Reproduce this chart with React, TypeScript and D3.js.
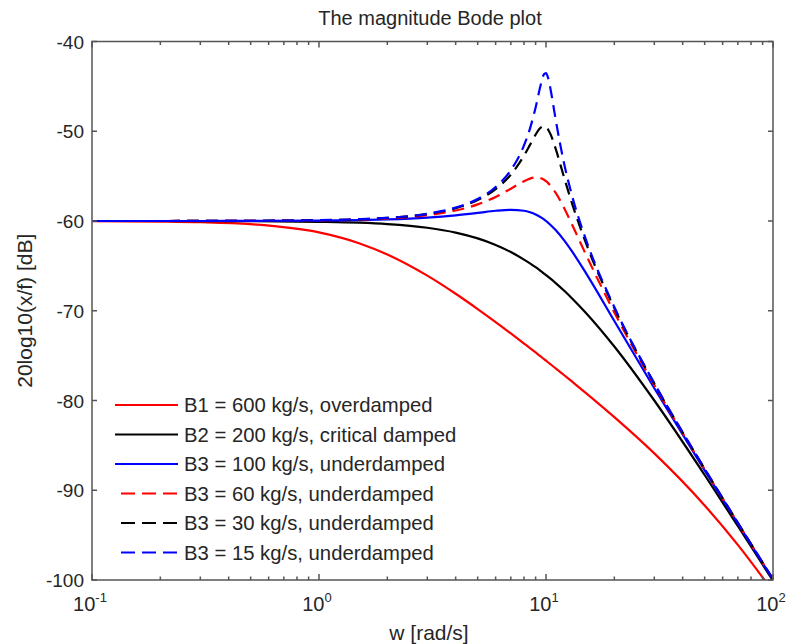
import React from 'react';
import * as d3 from 'd3';

// frequency samples [rad/s]
const w = [0.1, 0.2, 0.3, 0.5, 1, 1.5, 2, 3, 4, 5, 6, 7, 8, 8.5, 9, 9.5, 9.8, 10, 10.2, 10.5, 11, 12, 13, 15, 20, 30, 50, 70, 100];

// magnitude [dB] for each damping value
const b600 = [-60.01, -60.06, -60.13, -60.35, -61.27, -62.47, -63.73, -66.09, -68.11, -69.81, -71.26, -72.53, -73.65, -74.16, -74.65, -75.12, -75.39, -75.56, -75.74, -75.99, -76.4, -77.16, -77.88, -79.17, -81.85, -85.89, -91.69, -96.09, -101.27];
const b200 = [-60.0, -60.0, -60.01, -60.02, -60.09, -60.19, -60.34, -60.75, -61.29, -61.94, -62.67, -63.46, -64.3, -64.72, -65.15, -65.59, -65.85, -66.02, -66.19, -66.45, -66.89, -67.75, -68.6, -70.24, -73.98, -80.0, -88.3, -93.98, -100.09];
const b100 = [-60.0, -60.0, -60.0, -59.99, -59.96, -59.9, -59.83, -59.63, -59.37, -59.1, -58.86, -58.75, -58.86, -59.03, -59.27, -59.6, -59.83, -60.0, -60.18, -60.47, -60.98, -62.13, -63.36, -65.81, -71.14, -78.63, -87.79, -93.72, -99.96];
const b60 = [-60.0, -60.0, -59.99, -59.98, -59.93, -59.84, -59.71, -59.35, -58.83, -58.15, -57.32, -56.4, -55.56, -55.28, -55.15, -55.24, -55.41, -55.56, -55.75, -56.1, -56.81, -58.52, -60.35, -63.75, -70.19, -78.28, -87.67, -93.66, -99.93];
const b30 = [-60.0, -60.0, -59.99, -59.98, -59.92, -59.81, -59.66, -59.22, -58.57, -57.67, -56.45, -54.83, -52.72, -51.52, -50.37, -49.58, -49.44, -49.54, -49.79, -50.4, -51.85, -55.1, -57.98, -62.47, -69.71, -78.12, -87.62, -93.63, -99.92];
const b15 = [-60.0, -60.0, -59.99, -59.98, -59.91, -59.8, -59.65, -59.19, -58.51, -57.54, -56.21, -54.33, -51.58, -49.7, -47.35, -44.74, -43.65, -43.52, -43.99, -45.48, -48.53, -53.54, -57.11, -62.08, -69.59, -78.08, -87.61, -93.63, -99.91];

const seriesNames = [
  'B1 = 600 kg/s, overdamped',
  'B2 = 200 kg/s, critical damped',
  'B3 = 100 kg/s, underdamped',
  'B3 = 60 kg/s, underdamped',
  'B3 = 30 kg/s, underdamped',
  'B3 = 15 kg/s, underdamped',
];
const seriesValues = [b600, b200, b100, b60, b30, b15];
const seriesColors = ['#ff0000', '#000000', '#0000ff', '#ff0000', '#000000', '#0000ff'];
const seriesDashed = [false, false, false, true, true, true];

const yTicks = [-100, -90, -80, -70, -60, -50, -40];
const xDecades = [-1, 0, 1, 2];

const width = 786;
const height = 644;
const margin = { top: 41.5, right: 13, bottom: 64, left: 92 };
const font = '"Liberation Sans", Arial, sans-serif';
const axisColor = '#555';
const textColor = '#262626';

const App = () => {
  const x = d3.scaleLog().domain([0.1, 100]).range([margin.left, width - margin.right]);
  const y = d3.scaleLinear().domain([-100, -40]).range([height - margin.bottom, margin.top]);
  const x0 = margin.left;
  const x1 = width - margin.right;
  const y0 = height - margin.bottom;
  const y1 = margin.top;

  const line = d3.line<[number, number]>()
    .x(d => x(d[0]))
    .y(d => y(d[1]))
    .curve(d3.curveMonotoneX);

  const minorTicks = x.ticks().filter(t => Math.abs(Math.log10(t) - Math.round(Math.log10(t))) > 1e-6);

  return (
    <div style={{ position: 'absolute', left: 0, top: 0 }}>
      <svg width={width} height={height} style={{ display: 'block', background: '#fff' }}>
        <defs>
          <clipPath id="plot-clip">
            <rect x={x0} y={y1} width={x1 - x0} height={y0 - y1} />
          </clipPath>
        </defs>

        {/* curves */}
        <g clipPath="url(#plot-clip)">
          {seriesValues.map((vals, i) => (
            <path
              key={i}
              d={line(w.map((wv, j) => [wv, vals[j]]) as [number, number][]) || ''}
              fill="none"
              stroke={seriesColors[i]}
              strokeWidth={2.2}
              strokeDasharray={seriesDashed[i] ? '12,7' : undefined}
            />
          ))}
        </g>

        {/* frame */}
        <rect x={x0} y={y1} width={x1 - x0} height={y0 - y1} fill="none" stroke={axisColor} strokeWidth={1.5} />

        {/* y ticks */}
        {yTicks.map(t => (
          <g key={t}>
            <line x1={x0} x2={x0 + 5} y1={y(t)} y2={y(t)} stroke={axisColor} strokeWidth={1.5} />
            <line x1={x1} x2={x1 - 5} y1={y(t)} y2={y(t)} stroke={axisColor} strokeWidth={1.5} />
            <text x={x0 - 8} y={y(t) + 7} textAnchor="end" fontFamily={font} fontSize={19} fill={textColor}>
              {t}
            </text>
          </g>
        ))}

        {/* x ticks */}
        {minorTicks.map(t => (
          <g key={t}>
            <line x1={x(t)} x2={x(t)} y1={y0} y2={y0 - 3.5} stroke={axisColor} strokeWidth={1.5} />
            <line x1={x(t)} x2={x(t)} y1={y1} y2={y1 + 3.5} stroke={axisColor} strokeWidth={1.5} />
          </g>
        ))}
        {xDecades.map(p => {
          const xv = x(Math.pow(10, p));
          return (
            <g key={p}>
              <line x1={xv} x2={xv} y1={y0} y2={y0 - 6} stroke={axisColor} strokeWidth={1.5} />
              <line x1={xv} x2={xv} y1={y1} y2={y1 + 6} stroke={axisColor} strokeWidth={1.5} />
              <text x={xv - 2} y={611} textAnchor="middle" fontFamily={font} fontSize={20} fill={textColor}>
                10<tspan dy={-9} fontSize={13}>{p}</tspan>
              </text>
            </g>
          );
        })}

        {/* legend */}
        {seriesNames.map((name, i) => {
          const ly = 405 + i * 29.5;
          return (
            <g key={name}>
              <line
                x1={seriesDashed[i] ? 121 : 115}
                x2={178}
                y1={ly}
                y2={ly}
                stroke={seriesColors[i]}
                strokeWidth={2.2}
                strokeDasharray={seriesDashed[i] ? '14,7' : undefined}
              />
              <text x={184} y={ly + 7} fontFamily={font} fontSize={20.3} fill={textColor}>
                {name}
              </text>
            </g>
          );
        })}

        {/* titles */}
        <text x={430} y={25} textAnchor="middle" fontFamily={font} fontSize={20} fill={textColor}>
          The magnitude Bode plot
        </text>
        <text x={429} y={640} textAnchor="middle" fontFamily={font} fontSize={21} fill={textColor}>
          w [rad/s]
        </text>
        <text
          transform={`translate(32,${(y0 + y1) / 2}) rotate(-90)`}
          textAnchor="middle"
          fontFamily={font}
          fontSize={21}
          fill={textColor}
        >
          20log10(x/f) [dB]
        </text>
      </svg>
    </div>
  );
};

export default App;
